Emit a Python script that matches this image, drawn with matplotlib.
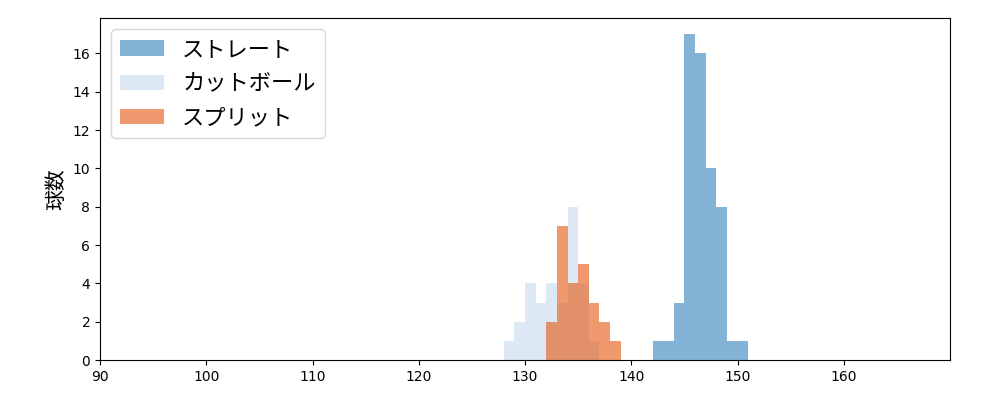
import matplotlib
matplotlib.use("Agg")
import matplotlib.pyplot as plt
import numpy as np

plt.rcParams['font.family'] = ['DejaVu Sans', 'Noto Sans CJK JP']

labels = ['ストレート', 'カットボール', 'スプリット']
colors = ['#3182bd', '#c6dbef', '#e6550d']
straight_left = [142, 143, 144, 145, 146, 147, 148, 149, 150]
straight_cnt = [1, 1, 3, 17, 16, 10, 8, 1, 1]
cut_left = [128, 129, 130, 131, 132, 133, 134, 135, 136]
cut_cnt = [1, 2, 4, 3, 4, 3, 8, 4, 1]
split_left = [132, 133, 134, 135, 136, 137, 138]
split_cnt = [2, 7, 4, 5, 3, 2, 1]

fig, ax = plt.subplots(figsize=(10, 4), dpi=100)
for lefts, cnts, c, lab in [(straight_left, straight_cnt, colors[0], labels[0]),
                            (cut_left, cut_cnt, colors[1], labels[1]),
                            (split_left, split_cnt, colors[2], labels[2])]:
    ax.hist(lefts, bins=np.arange(min(lefts), max(lefts) + 2), weights=cnts,
            color=c, alpha=0.6, label=lab)
ax.set_xlim(90, 170)
ax.set_ylim(0, 17.85)
ax.set_xticks(range(90, 170, 10))
ax.set_yticks(range(0, 17, 2))
ax.set_ylabel('球数', fontsize=15, family=['Noto Sans CJK JP'])
ax.legend(loc='upper left', prop={'family': ['Noto Sans CJK JP'], 'size': 16})
fig.subplots_adjust(left=0.1, right=0.95, top=0.955, bottom=0.1)
fig.savefig('out.png')
